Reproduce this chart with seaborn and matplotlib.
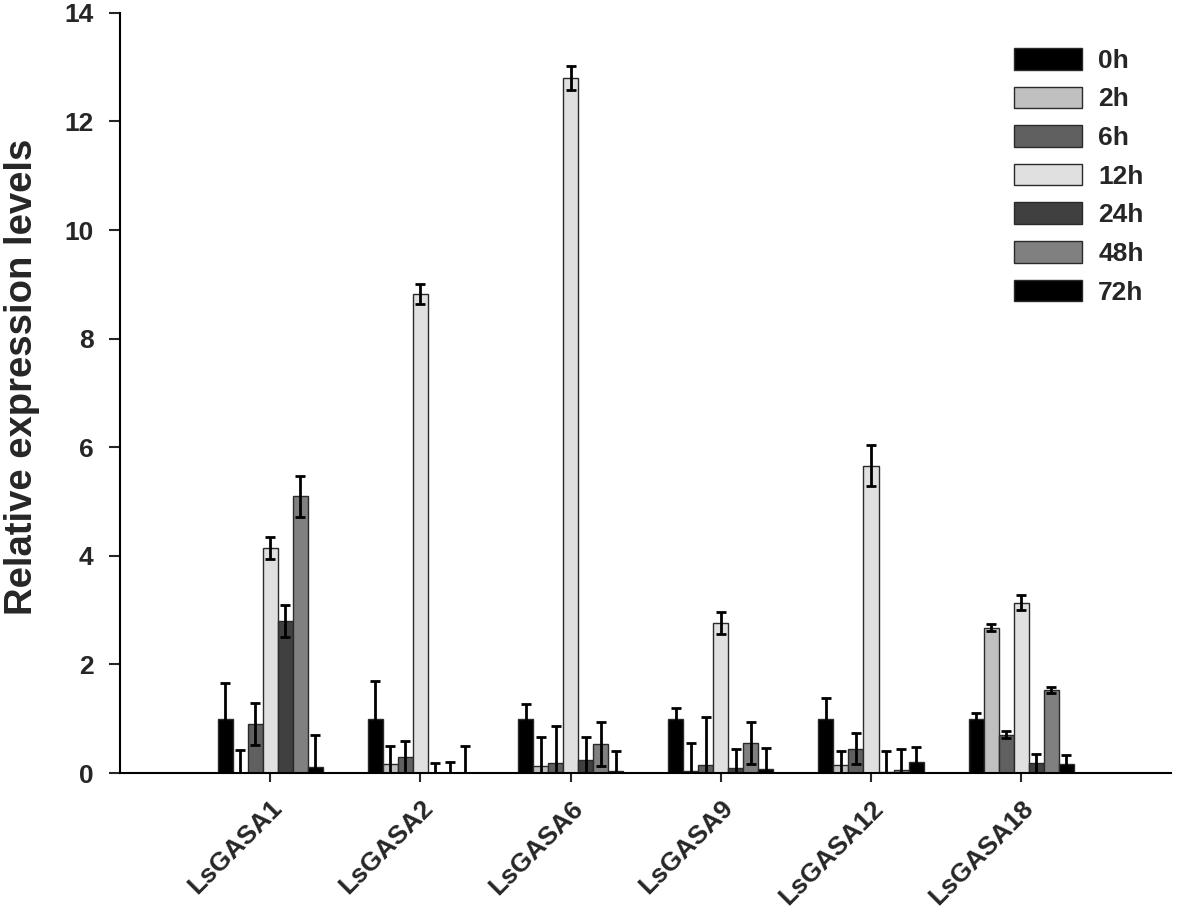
import matplotlib
matplotlib.use("Agg")
import matplotlib.pyplot as plt
import pandas as pd
import numpy as np
import seaborn as sns

# genes and time points
genes = ["LsGASA1", "LsGASA2", "LsGASA6", "LsGASA9", "LsGASA12", "LsGASA18"]
times = ["0h", "2h", "6h", "12h", "24h", "48h", "72h"]

# mean expression for each time point (one value per gene)
h0 = [1.00, 1.00, 1.00, 1.00, 1.00, 1.00]
h2 = [0.01, 0.16, 0.13, 0.04, 0.15, 2.68]
h6 = [0.90, 0.29, 0.18, 0.15, 0.45, 0.71]
h12 = [4.15, 8.82, 12.80, 2.76, 5.66, 3.14]
h24 = [2.80, 0.01, 0.24, 0.10, 0.02, 0.18]
h48 = [5.10, 0.01, 0.54, 0.56, 0.05, 1.53]
h72 = [0.12, 0.01, 0.03, 0.08, 0.20, 0.16]

# error values
e0 = [0.66, 0.69, 0.27, 0.19, 0.38, 0.11]
e2 = [0.42, 0.34, 0.53, 0.52, 0.25, 0.06]
e6 = [0.39, 0.31, 0.68, 0.89, 0.29, 0.07]
e12 = [0.20, 0.18, 0.22, 0.20, 0.38, 0.14]
e24 = [0.30, 0.18, 0.43, 0.34, 0.38, 0.17]
e48 = [0.38, 0.19, 0.40, 0.39, 0.39, 0.06]
e72 = [0.58, 0.49, 0.38, 0.39, 0.28, 0.18]

means = [h0, h2, h6, h12, h24, h48, h72]
errs = [e0, e2, e6, e12, e24, e48, e72]

colours = ["#000000", "#c0c0c0", "#606060", "#e0e0e0", "#404040", "#808080", "#000000"]

rows = []
for t, vals in zip(times, means):
    for g, v in zip(genes, vals):
        rows.append({"gene": g, "time": t, "value": v})
df = pd.DataFrame(rows)

sns.set_style("white")
plt.rcParams["font.family"] = ["Liberation Sans", "DejaVu Sans"]
plt.rcParams["font.weight"] = "bold"

fig = plt.figure(figsize=(11.8, 9.16), dpi=100)
ax = fig.add_axes([0.1017, 0.156, 0.891, 0.83])

sns.barplot(data=df, x="gene", y="value", hue="time", order=genes, hue_order=times,
            palette=colours, errorbar=None, width=0.7, gap=0,
            edgecolor="#2a2a2a", linewidth=1.0, saturation=1, ax=ax)

# error bars on top of each bar
for cont, err in zip(ax.containers, errs):
    xs = [b.get_x() + b.get_width() / 2 for b in cont]
    hs = [b.get_height() for b in cont]
    ax.errorbar(xs, hs, yerr=err, fmt="none", ecolor="black",
                elinewidth=2, capsize=3.6, capthick=2, zorder=5, clip_on=True)

ax.set_xlim(-1, 6)
ax.set_ylim(0, 14)
ax.set_yticks(range(0, 15, 2))
ax.set_ylabel("Relative expression levels", fontsize=27.5, fontweight="bold")
ax.yaxis.set_label_coords(-0.076, 0.521)
ax.set_xlabel("")

for s in ["top", "right"]:
    ax.spines[s].set_visible(False)
for s in ["left", "bottom"]:
    ax.spines[s].set_linewidth(1.5)
    ax.spines[s].set_color("black")

ax.tick_params(axis="y", direction="out", length=8, width=1.5, labelsize=19, pad=11, left=True)
ax.tick_params(axis="x", direction="out", length=6.5, width=1.5, labelsize=19, pad=10, bottom=True)
plt.setp(ax.get_xticklabels(), rotation=45, ha="right", rotation_mode="anchor", fontweight="bold")
plt.setp(ax.get_yticklabels(), fontweight="bold")

leg = ax.legend(loc="upper left", bbox_to_anchor=(0.828, 0.985), frameon=False,
                handlelength=2.58, handleheight=0.88, labelspacing=0.52,
                handletextpad=0.6, prop={"size": 19, "weight": "bold"})

fig.savefig("out.png", dpi=100)
